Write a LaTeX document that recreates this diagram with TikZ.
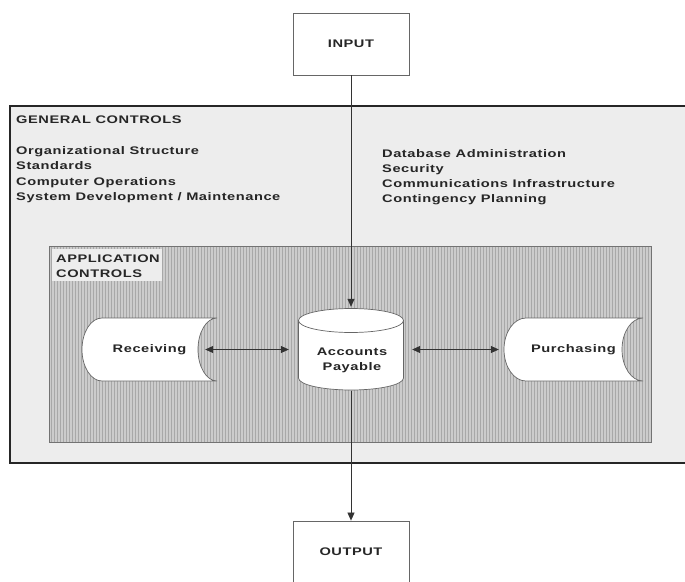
\documentclass[tikz,border=0pt]{standalone}
\usepackage{fontspec}
\setmainfont{Liberation Sans}[BoldFont={Liberation Sans Bold},FakeStretch=1.33,LetterSpace=5]
\usetikzlibrary{arrows.meta,patterns}
\begin{document}
\begin{tikzpicture}[x=1pt,y=-1pt,
  every node/.style={font=\bfseries\fontsize{11}{15}\selectfont, inner sep=0pt, text=black!85},
  lbl/.style={anchor=base west},
  boxst/.style={draw=black!60, line width=0.8pt, fill=white},
  frame/.style={minimum width=#1, minimum height=63pt},
  conn/.style={draw=black!80, line width=0.7pt},
  tipst/.style={-{Triangle[length=8pt,width=7pt]}},
  bitip/.style={{Triangle[length=8pt,width=7pt]}-{Triangle[length=8pt,width=7pt]}}]
\useasboundingbox (0,0) rectangle (685,581);
% general controls area
\draw[line width=2pt, draw=black!85, fill=black!7] (10,106) rectangle (692,463);
% application controls area
\fill[black!20] (49,246) rectangle (651,442);
\fill[pattern=vertical lines, pattern color=black!34] (49,246) rectangle (651,442);
\draw[black!55, line width=0.6pt] (49,246) rectangle (651,442);
\fill[black!7] (52,249) rectangle (162,281);
% receiving shape
\draw[boxst, line width=0.7pt] (217,318) -- (102,318)
  arc[start angle=270, end angle=90, x radius=20, y radius=31.5]
  -- (217,381)
  arc[start angle=90, end angle=270, x radius=19, y radius=31.5] -- cycle;
% purchasing shape
\draw[boxst, line width=0.7pt] (643,318) -- (526,318)
  arc[start angle=270, end angle=90, x radius=22, y radius=31.5]
  -- (643,381)
  arc[start angle=90, end angle=270, x radius=21, y radius=31.5] -- cycle;
% accounts payable cylinder
\draw[boxst, line width=0.7pt] (298.5,320.5) -- (298.5,378)
  arc[start angle=180, end angle=0, x radius=52.5, y radius=12]
  -- (403.5,320.5);
\draw[boxst, line width=0.7pt] (351,320.5) ellipse[x radius=52.5, y radius=12];
% nodes
\node[boxst, minimum width=116pt, minimum height=62pt] (inp) at (351,44) {INPUT};
\node[boxst, minimum width=116pt, minimum height=62pt] (out) at (351,552) {OUTPUT};
\node[frame=135pt] (rec) at (149.5,349.5) {Receiving};
\node[frame=139pt] (pur) at (573.5,349.5) {Purchasing};
\node[minimum width=105pt, minimum height=82pt] (ap) at (351,349.5) {};
\node[align=center] (aptxt) at (352,360) {Accounts\\Payable};
% texts
\node[lbl] (gc) at (16,123) {GENERAL CONTROLS};
\node[lbl] (g1) at (16,154) {Organizational Structure};
\node[lbl] (g2) at (16,169.5) {Standards};
\node[lbl] (g3) at (16,185) {Computer Operations};
\node[lbl] (g4) at (16,200.5) {System Development / Maintenance};
\node[lbl] (h1) at (382,157) {Database Administration};
\node[lbl] (h2) at (382,172) {Security};
\node[lbl] (h3) at (382,187) {Communications Infrastructure};
\node[lbl] (h4) at (382,202) {Contingency Planning};
\node[lbl] (ac1) at (56,262) {APPLICATION};
\node[lbl] (ac2) at (56,277) {CONTROLS};
% connectors
\draw[conn, tipst] (inp.south) -- ([yshift=1.5pt]ap.north);
\draw[conn, tipst] (ap.south) -- (out.north);
\draw[conn, bitip] ([xshift=-12pt]rec.east) -- ([xshift=-9.5pt]ap.west);
\draw[conn, bitip] ([xshift=8.5pt]ap.east) -- ([xshift=-5pt]pur.west);
\end{tikzpicture}
\end{document}
